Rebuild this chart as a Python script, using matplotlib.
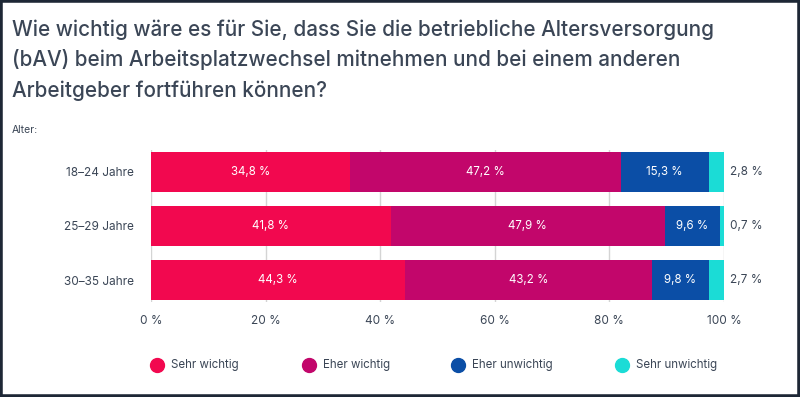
import matplotlib
matplotlib.use("Agg")
import matplotlib.pyplot as plt
from matplotlib.patches import Rectangle
from matplotlib.lines import Line2D
import numpy as np

categories = ["18–24 Jahre", "25–29 Jahre", "30–35 Jahre"]
series_names = ["Sehr wichtig", "Eher wichtig", "Eher unwichtig", "Sehr unwichtig"]
sehr_wichtig = [34.8, 41.8, 44.3]
eher_wichtig = [47.2, 47.9, 43.2]
eher_unwichtig = [15.3, 9.6, 9.8]
sehr_unwichtig = [2.8, 0.7, 2.7]
xticks = [0, 20, 40, 60, 80, 100]
xtick_labels = ["0 %", "20 %", "40 %", "60 %", "80 %", "100 %"]
title_lines = ["Wie wichtig wäre es für Sie, dass Sie die betriebliche Altersversorgung",
               "(bAV) beim Arbeitsplatzwechsel mitnehmen und bei einem anderen",
               "Arbeitgeber fortführen können?"]
colors = ["#f2084f", "#c2066b", "#0b4ea6", "#1bdcd6"]

plt.rcParams['font.family'] = ['Inter', 'DejaVu Sans']
text_col = "#3b4656"

fig = plt.figure(figsize=(8, 3.97), dpi=100)
fig.patch.set_facecolor("white")
ax = fig.add_axes([151/800, 1-302/397, (724-151)/800, (302-150)/397])

series = [sehr_wichtig, eher_wichtig, eher_unwichtig, sehr_unwichtig]
y = np.arange(len(categories))
left = np.zeros(len(categories))
for i, (vals, col) in enumerate(zip(series, colors)):
    vals = np.array(vals)
    ax.barh(y, vals, left=left, height=0.74, color=col, zorder=3)
    for j, v in enumerate(vals):
        lab = f"{v:.1f} %".replace(".", ",")
        if i < 3:
            ax.text(left[j] + v/2, y[j], lab, ha="center", va="center",
                    color="white", fontsize=8.3, zorder=4)
        else:
            ax.text(101.0, y[j], lab, ha="left", va="center",
                    color=text_col, fontsize=8.5, zorder=4, clip_on=False)
    left = left + vals

ax.set_xlim(0, 100)
ax.set_ylim(2.4, -0.4)
ax.set_yticks(y)
ax.set_yticklabels(categories, fontsize=8.5, color=text_col)
ax.set_xticks(xticks)
ax.set_xticklabels(xtick_labels, fontsize=8.5, color=text_col)
ax.tick_params(axis="both", length=0)
ax.tick_params(axis="y", pad=12)
ax.tick_params(axis="x", pad=9)
for s in ax.spines.values():
    s.set_visible(False)
ax.grid(axis="x", color="#d4d4d4", linewidth=1, zorder=0)
ax.set_axisbelow(True)

for k, line in enumerate(title_lines):
    fig.text(12/800, 1-(36+30.5*k)/397, line, fontsize=14.9, color=text_col,
             ha="left", va="baseline", fontweight="medium")
fig.text(12/800, 1-130/397, "Alter:", fontsize=7.5, color=text_col, ha="left", va="center")

leg_x = [157, 309, 458, 622]
for hx, c, name in zip(leg_x, colors, series_names):
    fig.add_artist(Line2D([hx/800], [1-365/397], marker="o", markersize=10,
                          markerfacecolor=c, markeredgecolor=c, linestyle="none",
                          transform=fig.transFigure))
    fig.text((hx+14)/800, 1-365/397, name, fontsize=8.3, color=text_col,
             ha="left", va="center")

fig.add_artist(Rectangle((0, 0), 1, 1, transform=fig.transFigure, fill=False,
                         edgecolor="#1d2735", linewidth=4, zorder=10))

fig.savefig("out.png", dpi=100, facecolor="white")
